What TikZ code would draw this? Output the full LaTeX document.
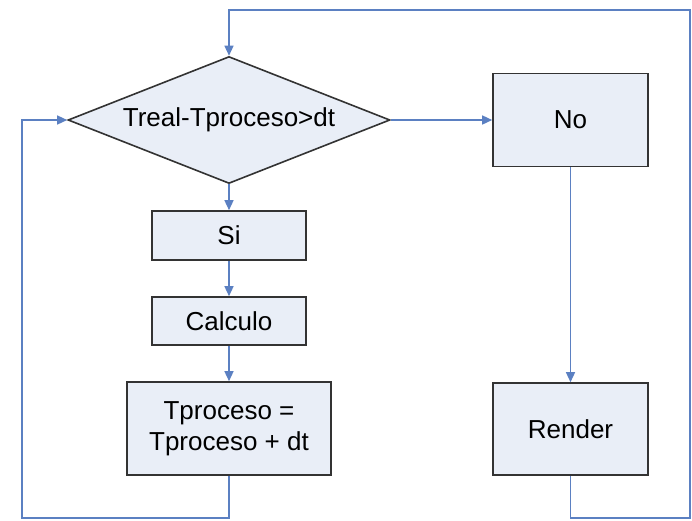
\documentclass[tikz,border=0pt]{standalone}
\usepackage{fontspec}
\setmainfont{Liberation Sans}
\usetikzlibrary{shapes.geometric,arrows.meta}
\definecolor{boxfill}{HTML}{E9EEF7}
\definecolor{boxline}{HTML}{333333}
\definecolor{conn}{HTML}{5B80C2}
\tikzset{
  procbox/.style={draw=boxline, fill=boxfill, line width=1.6pt, inner sep=0pt,
    align=center, font=\fontsize{26}{31}\selectfont},
  decbox/.style={procbox, diamond, shape aspect=2.56},
  conline/.style={draw=conn, line width=1.4pt},
  conarrow/.style={conline, -{Triangle[length=10pt,width=9pt]}}
}
\begin{document}
\begin{tikzpicture}[x=1pt,y=-1pt]
\useasboundingbox (0,0) rectangle (692,520);
\node[decbox, minimum width=322pt, minimum height=127pt] (d) at (229,120) {Treal-Tproceso>dt};
\node[procbox, minimum width=155pt, minimum height=93pt] (no) at (570.5,120) {No};
\node[procbox, minimum width=154pt, minimum height=49pt] (si) at (229,235.5) {Si};
\node[procbox, minimum width=154pt, minimum height=48pt] (calc) at (229,321) {Calculo};
\node[procbox, minimum width=204pt, minimum height=93pt] (tp) at (229,428.5) {Tproceso =\\Tproceso + dt};
\node[procbox, minimum width=155pt, minimum height=92pt] (render) at (570.5,429) {Render};
\coordinate (lb) at (22,518);
\coordinate (lt) at (22,120);
\coordinate (rb) at (690,518);
\coordinate (rt) at (690,10);
\draw[conarrow] (d.east) -- (no.west);
\draw[conarrow] (d.south) -- (si.north);
\draw[conarrow] (si.south) -- (calc.north);
\draw[conarrow] (calc.south) -- (tp.north);
\draw[conarrow] (no.south) -- (render.north);
\draw[conarrow] (tp.south) |- (lb) -- (lt) -- (d.west);
\draw[conarrow] (render.south) |- (rb) -- (rt) -| (d.north);
\end{tikzpicture}
\end{document}
